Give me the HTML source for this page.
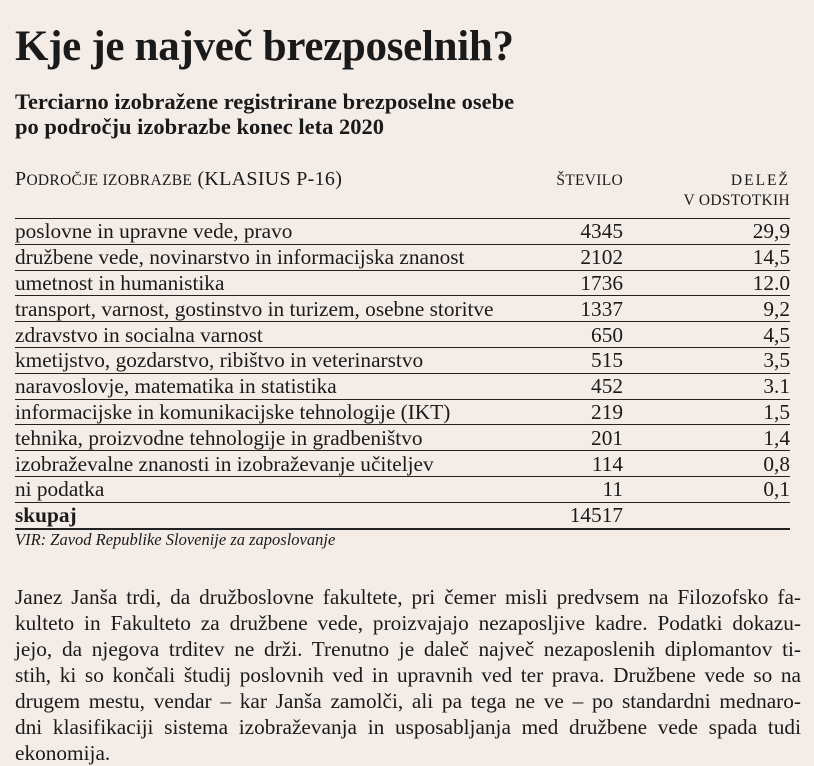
<!DOCTYPE html>
<html><head><meta charset="utf-8"><style>
body{margin:0;width:814px;height:760px;background:#f4ece7;font-family:"Liberation Serif",serif;color:#1a1a1a;overflow:hidden;position:relative}
h1{position:absolute;left:15px;top:22px;margin:0;font-size:43px;font-weight:bold;letter-spacing:-0.3px;white-space:nowrap}
.sub{position:absolute;left:15px;top:89px;font-size:22.5px;font-weight:bold;line-height:25px;white-space:nowrap}
.hd{position:absolute;top:168px;font-size:20px;letter-spacing:0.3px;white-space:nowrap}
table{position:absolute;left:15px;top:218px;width:775px;border-collapse:collapse;font-size:21.3px}
td{height:24.8px;padding:0;border-top:1px solid #222;line-height:24px;vertical-align:middle;white-space:nowrap}
td.n{text-align:right;width:120px}
td.p{text-align:right;width:167px}
tr.last td{border-bottom:2px solid #222}
.src{position:absolute;left:15px;top:530px;font-size:16.5px;font-style:italic;white-space:nowrap}
.body{position:absolute;left:15px;top:584px;width:786px;font-size:21.3px;line-height:26px}
.body div{text-align:justify;text-align-last:justify;white-space:nowrap}
.body div.e{text-align-last:left}
</style></head><body>
<h1>Kje je največ brezposelnih?</h1>
<div class="sub">Terciarno izobražene registrirane brezposelne osebe<br>po področju izobrazbe konec leta 2020</div>
<div class="hd" style="left:15px">P<span style="font-size:15.5px">ODROČJE IZOBRAZBE</span> (KLASIUS P-16)</div>
<div class="hd" style="right:191px;font-size:15.5px;top:172px">ŠTEVILO</div>
<div class="hd" style="right:24px;font-size:15.5px;top:172px;letter-spacing:2px">DELEŽ</div>
<div class="hd" style="right:24px;font-size:15.5px;top:192px">V ODSTOTKIH</div>
<table>
<tr><td>poslovne in upravne vede, pravo</td><td class="n">4345</td><td class="p">29,9</td></tr>
<tr><td>družbene vede, novinarstvo in informacijska znanost</td><td class="n">2102</td><td class="p">14,5</td></tr>
<tr><td>umetnost in humanistika</td><td class="n">1736</td><td class="p">12.0</td></tr>
<tr><td>transport, varnost, gostinstvo in turizem, osebne storitve</td><td class="n">1337</td><td class="p">9,2</td></tr>
<tr><td>zdravstvo in socialna varnost</td><td class="n">650</td><td class="p">4,5</td></tr>
<tr><td>kmetijstvo, gozdarstvo, ribištvo in veterinarstvo</td><td class="n">515</td><td class="p">3,5</td></tr>
<tr><td>naravoslovje, matematika in statistika</td><td class="n">452</td><td class="p">3.1</td></tr>
<tr><td>informacijske in komunikacijske tehnologije (IKT)</td><td class="n">219</td><td class="p">1,5</td></tr>
<tr><td>tehnika, proizvodne tehnologije in gradbeništvo</td><td class="n">201</td><td class="p">1,4</td></tr>
<tr><td>izobraževalne znanosti in izobraževanje učiteljev</td><td class="n">114</td><td class="p">0,8</td></tr>
<tr><td>ni podatka</td><td class="n">11</td><td class="p">0,1</td></tr>
<tr class="last"><td><b>skupaj</b></td><td class="n">14517</td><td class="p"></td></tr>
</table>
<div class="src">VIR: Zavod Republike Slovenije za zaposlovanje</div>
<div class="body">
<div>Janez Janša trdi, da družboslovne fakultete, pri čemer misli predvsem na Filozofsko fa-</div>
<div>kulteto in Fakulteto za družbene vede, proizvajajo nezaposljive kadre. Podatki dokazu-</div>
<div>jejo, da njegova trditev ne drži. Trenutno je daleč največ nezaposlenih diplomantov ti-</div>
<div>stih, ki so končali študij poslovnih ved in upravnih ved ter prava. Družbene vede so na</div>
<div>drugem mestu, vendar – kar Janša zamolči, ali pa tega ne ve – po standardni mednaro-</div>
<div>dni klasifikaciji sistema izobraževanja in usposabljanja med družbene vede spada tudi</div>
<div class="e">ekonomija.</div>
</div>
</body></html>
